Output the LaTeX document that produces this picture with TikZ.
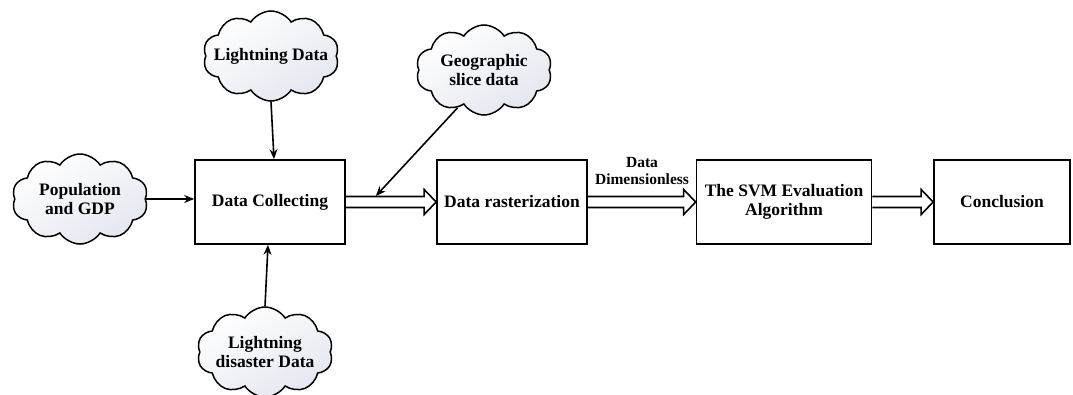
\documentclass[tikz,border=0pt]{standalone}
\usepackage{fontspec}
\setmainfont{Liberation Serif}
\usetikzlibrary{shapes.symbols,arrows.meta,calc}
\definecolor{cloudTint}{RGB}{228,231,240}
\begin{document}
\begin{tikzpicture}
[x=1pt,y=-1pt,
  font=\bfseries\fontsize{17.5}{19.5}\selectfont,
  boxDecorate/.style={draw,line width=1.7pt,minimum width=150pt,minimum height=84pt,align=center,inner sep=0pt},
  cloudDecorate/.style={shape=cloud,draw,line width=1.5pt,cloud puffs=10,cloud puff arc=115,
    minimum width=136pt,minimum height=90pt,inner sep=0pt,top color=white,bottom color=cloudTint,shading angle=30},
  arrowDecorate/.style={-{Stealth[length=10pt,width=8pt]},line width=1.6pt},
  flowDecorate/.style={line width=1.6pt,line join=miter,
    to path={($(\tikztostart)+(0,-5.5)$) -- ($(\tikztotarget)+(-12,-5.5)$) -- ($(\tikztotarget)+(-12,-12.5)$)
      -- (\tikztotarget) -- ($(\tikztotarget)+(-12,12.5)$) -- ($(\tikztotarget)+(-12,5.5)$) -- ($(\tikztostart)+(0,5.5)$)}}]
\useasboundingbox (0,0) rectangle (1073,394);
%% process boxes
\foreach \nodename/\x/\y/\w/\text in {
  collect/270/202/150/Data Collecting, raster/512/202/150/Data rasterization,
  svm/784/202/175/The SVM Evaluation\\Algorithm, concl/1002/202/136/Conclusion}
{
  \node (\nodename) at (\x,\y) [boxDecorate,minimum width=\w pt] {\text};
}
%% data sources
\foreach \nodename/\x/\y/\text in {
  light/271/56/Lightning Data, geo/484/70/Geographic\\slice data,
  popu/80/199/Population\\and GDP, disaster/265/352/Lightning\\disaster Data}
{
  \node (\nodename) at (\x,\y) [cloudDecorate] {};
  \node [align=center] at (\nodename.center) {\text};
}
%% flow between steps
\path
\foreach \startnode/\endnode in {collect/raster, raster/svm, svm/concl}
{
  (\startnode.east) edge[flowDecorate] (\endnode.west)
};
\node [align=center,font=\bfseries\fontsize{15.5}{17.5}\selectfont] at (642,171) {Data\\Dimensionless};
%% inputs
\coordinate (hit) at ($(collect.east)+(30,-6)$);
\draw[arrowDecorate] (light.south) -- ($(collect.north)+(4,0)$);
\draw[arrowDecorate] (popu.east) -- (popu.east -| collect.west);
\draw[arrowDecorate] (disaster.north) -- ($(collect.south)+(-2,0)$);
\draw[arrowDecorate] (geo.-125) -- (hit);
\end{tikzpicture}
\end{document}
